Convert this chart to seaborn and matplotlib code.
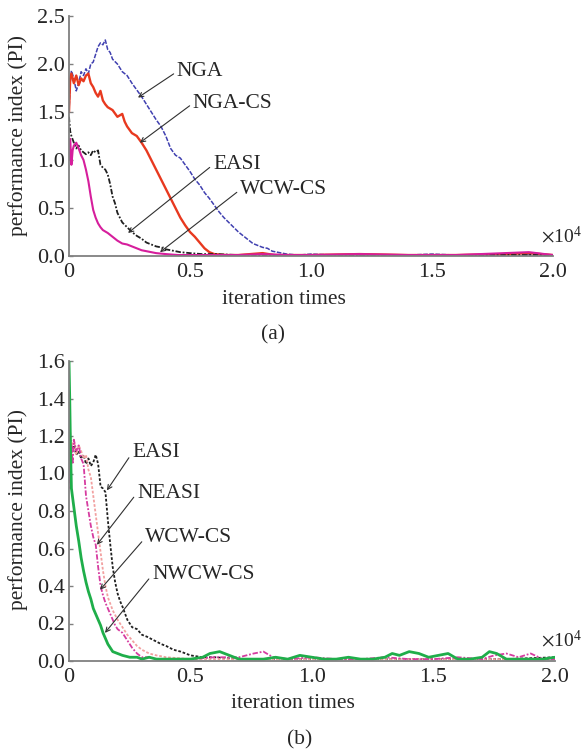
import matplotlib
matplotlib.use("Agg")
import matplotlib.pyplot as plt
import seaborn as sns

# ---------------- data (x in units of 10^4 iterations) ----------------
# Panel (a)
nga_x = [0, 0.005, 0.01, 0.02, 0.03, 0.04, 0.05, 0.06, 0.07, 0.08, 0.09, 0.10, 0.11, 0.12,
         0.13, 0.14, 0.15, 0.16, 0.17, 0.18, 0.20, 0.22, 0.24, 0.26, 0.28, 0.30, 0.32, 0.34,
         0.36, 0.38, 0.40, 0.42, 0.44, 0.46, 0.48, 0.50, 0.52, 0.54, 0.56, 0.58, 0.60, 0.62,
         0.64, 0.66, 0.68, 0.70, 0.72, 0.74, 0.76, 0.78, 0.80, 0.82, 0.84, 0.86, 0.88, 0.90,
         0.95, 1.0, 1.1, 1.2, 1.3, 1.4, 1.5, 1.6, 1.7, 1.8, 1.85, 1.9, 1.95, 2.0]
nga_y = [1.50, 1.80, 1.93, 1.85, 1.72, 1.80, 1.92, 1.88, 1.95, 1.90, 2.00, 2.02, 2.10, 2.18,
         2.22, 2.20, 2.25, 2.15, 2.12, 2.05, 2.00, 1.92, 1.88, 1.80, 1.73, 1.66, 1.58, 1.50,
         1.42, 1.35, 1.25, 1.12, 1.05, 1.02, 0.95, 0.88, 0.80, 0.74, 0.66, 0.60, 0.53, 0.46,
         0.40, 0.35, 0.30, 0.25, 0.21, 0.17, 0.13, 0.11, 0.09, 0.08, 0.05, 0.04, 0.03, 0.02,
         0.01, 0.02, 0.01, 0.01, 0.01, 0.01, 0.02, 0.01, 0.01, 0.02, 0.03, 0.02, 0.01, 0.01]

ngacs_x = [0, 0.005, 0.01, 0.02, 0.03, 0.04, 0.05, 0.06, 0.07, 0.08, 0.09, 0.10, 0.11, 0.12,
           0.13, 0.14, 0.15, 0.16, 0.18, 0.20, 0.22, 0.23, 0.24, 0.26, 0.28, 0.30, 0.32, 0.34,
           0.36, 0.38, 0.40, 0.42, 0.44, 0.46, 0.48, 0.50, 0.52, 0.54, 0.56, 0.58, 0.60, 0.65,
           0.7, 0.8, 0.85, 0.9, 1.0, 1.2, 1.4, 1.6, 1.8, 1.9, 2.0]
ngacs_y = [1.50, 1.85, 1.90, 1.80, 1.88, 1.78, 1.85, 1.82, 1.88, 1.90, 1.80, 1.76, 1.70, 1.66,
           1.72, 1.62, 1.58, 1.55, 1.52, 1.45, 1.48, 1.40, 1.35, 1.28, 1.25, 1.18, 1.10, 1.00,
           0.90, 0.80, 0.70, 0.60, 0.50, 0.40, 0.32, 0.25, 0.20, 0.14, 0.08, 0.04, 0.02, 0.01,
           0.01, 0.03, 0.01, 0.01, 0.01, 0.02, 0.01, 0.01, 0.02, 0.03, 0.01]

easia_x = [0, 0.005, 0.01, 0.02, 0.03, 0.04, 0.05, 0.06, 0.07, 0.08, 0.09, 0.10, 0.11, 0.12,
           0.13, 0.14, 0.15, 0.16, 0.17, 0.18, 0.19, 0.20, 0.21, 0.22, 0.24, 0.26, 0.28, 0.30,
           0.32, 0.34, 0.36, 0.38, 0.40, 0.42, 0.44, 0.46, 0.50, 0.55, 0.6, 0.7, 0.8, 1.0,
           1.2, 1.4, 1.6, 1.8, 2.0]
easia_y = [1.45, 1.30, 1.25, 1.18, 1.12, 1.15, 1.10, 1.08, 1.06, 1.08, 1.05, 1.10, 1.08, 1.10,
           0.95, 0.92, 0.90, 0.85, 0.75, 0.62, 0.55, 0.45, 0.40, 0.35, 0.30, 0.25, 0.21, 0.18,
           0.14, 0.12, 0.10, 0.09, 0.07, 0.06, 0.05, 0.04, 0.03, 0.02, 0.02, 0.01, 0.01, 0.01,
           0.01, 0.01, 0.01, 0.01, 0.01]

wcwa_x = [0, 0.005, 0.01, 0.015, 0.02, 0.03, 0.04, 0.05, 0.06, 0.07, 0.08, 0.09, 0.10, 0.11,
          0.12, 0.13, 0.14, 0.16, 0.18, 0.20, 0.22, 0.24, 0.26, 0.28, 0.30, 0.32, 0.34, 0.36,
          0.40, 0.45, 0.5, 0.6, 0.7, 0.8, 0.9, 1.0, 1.2, 1.4, 1.6, 1.8, 1.9, 2.0]
wcwa_y = [1.00, 1.22, 0.95, 1.10, 1.15, 1.18, 1.12, 1.05, 1.00, 0.90, 0.78, 0.62, 0.48, 0.40,
          0.34, 0.30, 0.27, 0.24, 0.20, 0.16, 0.13, 0.12, 0.10, 0.08, 0.06, 0.05, 0.04, 0.03,
          0.02, 0.01, 0.01, 0.01, 0.01, 0.02, 0.01, 0.01, 0.02, 0.01, 0.01, 0.03, 0.04, 0.01]

# Panel (b)
nwcw_x = [0, 0.003, 0.006, 0.01, 0.02, 0.03, 0.04, 0.05, 0.06, 0.07, 0.08, 0.09, 0.10, 0.11,
          0.12, 0.13, 0.14, 0.15, 0.16, 0.17, 0.18, 0.20, 0.22, 0.25, 0.28, 0.30, 0.33, 0.36,
          0.40, 0.45, 0.50, 0.55, 0.58, 0.62, 0.66, 0.70, 0.75, 0.80, 0.85, 0.90, 0.95, 1.0,
          1.05, 1.1, 1.15, 1.2, 1.25, 1.3, 1.33, 1.36, 1.4, 1.44, 1.48, 1.52, 1.56, 1.6,
          1.65, 1.7, 1.73, 1.76, 1.8, 1.85, 1.9, 1.95, 2.0]
nwcw_y = [1.60, 1.40, 1.15, 0.92, 0.82, 0.72, 0.64, 0.55, 0.48, 0.42, 0.37, 0.33, 0.28, 0.25,
          0.22, 0.19, 0.15, 0.12, 0.09, 0.07, 0.05, 0.04, 0.03, 0.02, 0.02, 0.01, 0.02, 0.01,
          0.01, 0.01, 0.01, 0.02, 0.04, 0.05, 0.03, 0.01, 0.01, 0.01, 0.02, 0.01, 0.03, 0.02,
          0.01, 0.01, 0.02, 0.01, 0.01, 0.02, 0.04, 0.03, 0.05, 0.04, 0.02, 0.03, 0.04, 0.01,
          0.01, 0.02, 0.05, 0.04, 0.01, 0.01, 0.01, 0.01, 0.02]

wcwb_x = [0, 0.003, 0.006, 0.01, 0.015, 0.02, 0.03, 0.04, 0.05, 0.06, 0.07, 0.08, 0.09, 0.10,
          0.11, 0.12, 0.13, 0.14, 0.15, 0.16, 0.17, 0.18, 0.19, 0.20, 0.22, 0.24, 0.26, 0.28,
          0.30, 0.33, 0.36, 0.40, 0.45, 0.5, 0.6, 0.7, 0.76, 0.8, 0.84, 0.9, 1.0, 1.1,
          1.2, 1.3, 1.4, 1.5, 1.6, 1.7, 1.75, 1.8, 1.85, 1.9, 1.95, 2.0]
wcwb_y = [0.95, 1.20, 0.92, 1.15, 1.05, 1.18, 1.12, 1.15, 1.08, 1.05, 0.88, 0.80, 0.72, 0.66,
          0.62, 0.50, 0.40, 0.35, 0.31, 0.28, 0.25, 0.22, 0.19, 0.17, 0.15, 0.11, 0.07, 0.04,
          0.02, 0.02, 0.01, 0.01, 0.01, 0.01, 0.02, 0.02, 0.04, 0.05, 0.02, 0.01, 0.02, 0.01,
          0.01, 0.02, 0.01, 0.01, 0.02, 0.01, 0.03, 0.04, 0.02, 0.04, 0.01, 0.01]

neasi_x = [0, 0.005, 0.01, 0.02, 0.03, 0.04, 0.05, 0.06, 0.07, 0.08, 0.09, 0.10, 0.11, 0.12,
           0.13, 0.14, 0.15, 0.16, 0.18, 0.20, 0.22, 0.24, 0.26, 0.28, 0.30, 0.33, 0.36, 0.40,
           0.5, 0.6, 0.8, 1.0, 1.2, 1.4, 1.6, 1.8, 2.0]
neasi_y = [1.10, 1.22, 1.15, 1.18, 1.10, 1.15, 1.12, 1.08, 1.10, 1.02, 0.98, 0.88, 0.78, 0.68,
           0.58, 0.48, 0.40, 0.34, 0.27, 0.22, 0.18, 0.14, 0.11, 0.08, 0.06, 0.04, 0.03, 0.02,
           0.01, 0.01, 0.01, 0.01, 0.01, 0.01, 0.01, 0.01, 0.01]

easib_x = [0, 0.005, 0.01, 0.02, 0.03, 0.04, 0.05, 0.06, 0.07, 0.08, 0.09, 0.10, 0.11, 0.12,
           0.13, 0.14, 0.15, 0.16, 0.17, 0.18, 0.19, 0.20, 0.21, 0.22, 0.24, 0.26, 0.28, 0.30,
           0.32, 0.35, 0.38, 0.40, 0.43, 0.46, 0.50, 0.55, 0.6, 0.7, 0.8, 1.0, 1.2, 1.4,
           1.6, 1.8, 2.0]
easib_y = [1.10, 1.20, 1.12, 1.15, 1.10, 1.12, 1.08, 1.10, 1.05, 1.08, 1.04, 1.06, 1.10, 1.05,
           0.93, 0.92, 0.90, 0.75, 0.62, 0.50, 0.42, 0.36, 0.32, 0.29, 0.22, 0.18, 0.17, 0.14,
           0.13, 0.11, 0.09, 0.08, 0.06, 0.05, 0.03, 0.02, 0.02, 0.01, 0.01, 0.01, 0.01, 0.01,
           0.01, 0.01, 0.02]

x_ticks = [0, 0.5, 1.0, 1.5, 2.0]
x_ticklabels = ["0", "0.5", "1.0", "1.5", "2.0"]
ya_ticks = [0.0, 0.5, 1.0, 1.5, 2.0, 2.5]
yb_ticks = [0.0, 0.2, 0.4, 0.6, 0.8, 1.0, 1.2, 1.4, 1.6]

# ---------------- style ----------------
sns.set_theme(style="white")
plt.rcParams["font.family"] = ["Liberation Serif", "DejaVu Serif"]
plt.rcParams["mathtext.fontset"] = "stix"
FS = 15.5
TFS = 16

fig = plt.figure(figsize=(5.84, 7.49), dpi=100)
W, H = 584, 749

def ax_rect(l, t, r, b):
    return [l / W, 1 - b / H, (r - l) / W, (b - t) / H]

ax1 = fig.add_axes(ax_rect(69, 16, 553, 256))
ax2 = fig.add_axes(ax_rect(69, 361, 555, 661))

def line(ax, x, y, color, ls, lw):
    sns.lineplot(x=x, y=y, ax=ax, color=color, linestyle=ls, linewidth=lw,
                 estimator=None, sort=False)

line(ax1, nga_x, nga_y, "#4040b0", (0, (3, 1)), 1.1)
line(ax1, ngacs_x, ngacs_y, "#e8391f", "-", 1.7)
line(ax1, easia_x, easia_y, "#202020", (0, (3, 1, 1, 1)), 1.3)
line(ax1, wcwa_x, wcwa_y, "#d61e9c", "-", 1.5)

line(ax2, easib_x, easib_y, "#202020", (0, (1.5, 1)), 1.3)
line(ax2, neasi_x, neasi_y, "#f2a0a0", (0, (1.5, 1)), 1.3)
line(ax2, wcwb_x, wcwb_y, "#d63ca0", (0, (3, 1, 1, 1)), 1.3)
line(ax2, nwcw_x, nwcw_y, "#1fae4a", "-", 2.0)

for ax, yt, ymax in [(ax1, ya_ticks, 2.5), (ax2, yb_ticks, 1.6)]:
    ax.set_xlim(0, 2.0)
    ax.set_ylim(0, ymax)
    ax.set_xticks(x_ticks)
    ax.set_xticklabels(x_ticklabels)
    ax.set_yticks(yt)
    ax.set_yticklabels([f"{v:.1f}" for v in yt])
    for s in ["top", "right"]:
        ax.spines[s].set_visible(False)
    for s in ["left", "bottom"]:
        ax.spines[s].set_color("#808080")
        ax.spines[s].set_linewidth(1.3)
    ax.tick_params(axis="y", direction="in", length=3, width=1, color="#808080",
                   labelsize=TFS, pad=3, left=True)
    ax.tick_params(axis="x", length=0, labelsize=TFS, pad=5)
    ax.set_xlabel("")
    ax.set_ylabel("")
    ax.set_facecolor("white")

arrow = dict(arrowstyle="->", color="#303030", lw=0.8, shrinkA=0, shrinkB=0,
             relpos=(0, 0.5), mutation_scale=8)

ann_a = [("NGA", (0.446, 1.92), (0.285, 1.65)),
         ("NGA-CS", (0.512, 1.59), (0.293, 1.18)),
         ("EASI", (0.595, 0.95), (0.244, 0.24)),
         ("WCW-CS", (0.707, 0.69), (0.376, 0.04))]
for txt, xyt, xy in ann_a:
    ax1.annotate(txt, xy=xy, xytext=xyt, ha="left", va="center", fontsize=FS,
                 arrowprops=arrow)

ann_b = [("EASI", (0.26, 1.11), (0.156, 0.91)),
         ("NEASI", (0.28, 0.896), (0.115, 0.62)),
         ("WCW-CS", (0.313, 0.656), (0.128, 0.38)),
         ("NWCW-CS", (0.342, 0.459), (0.148, 0.15))]
for txt, xyt, xy in ann_b:
    ax2.annotate(txt, xy=xy, xytext=xyt, ha="left", va="center", fontsize=FS,
                 arrowprops=arrow)

def ftext(x, y, s, ha="center", fs=FS, **kw):
    fig.text(x / W, 1 - y / H, s, fontsize=fs, ha=ha, va="center", **kw)

ftext(18, 136, "performance index (PI)", rotation=90)
ftext(18, 510, "performance index (PI)", rotation=90)
ftext(284, 300, "iteration times")
ftext(293, 703, "iteration times")
ftext(273, 335, "(a)")
ftext(300, 740, "(b)")
ftext(582, 236, r"$\times\mathregular{10^4}$", ha="right", fs=14)
ftext(582, 640, r"$\times\mathregular{10^4}$", ha="right", fs=14)

fig.savefig("out.png", dpi=100)
